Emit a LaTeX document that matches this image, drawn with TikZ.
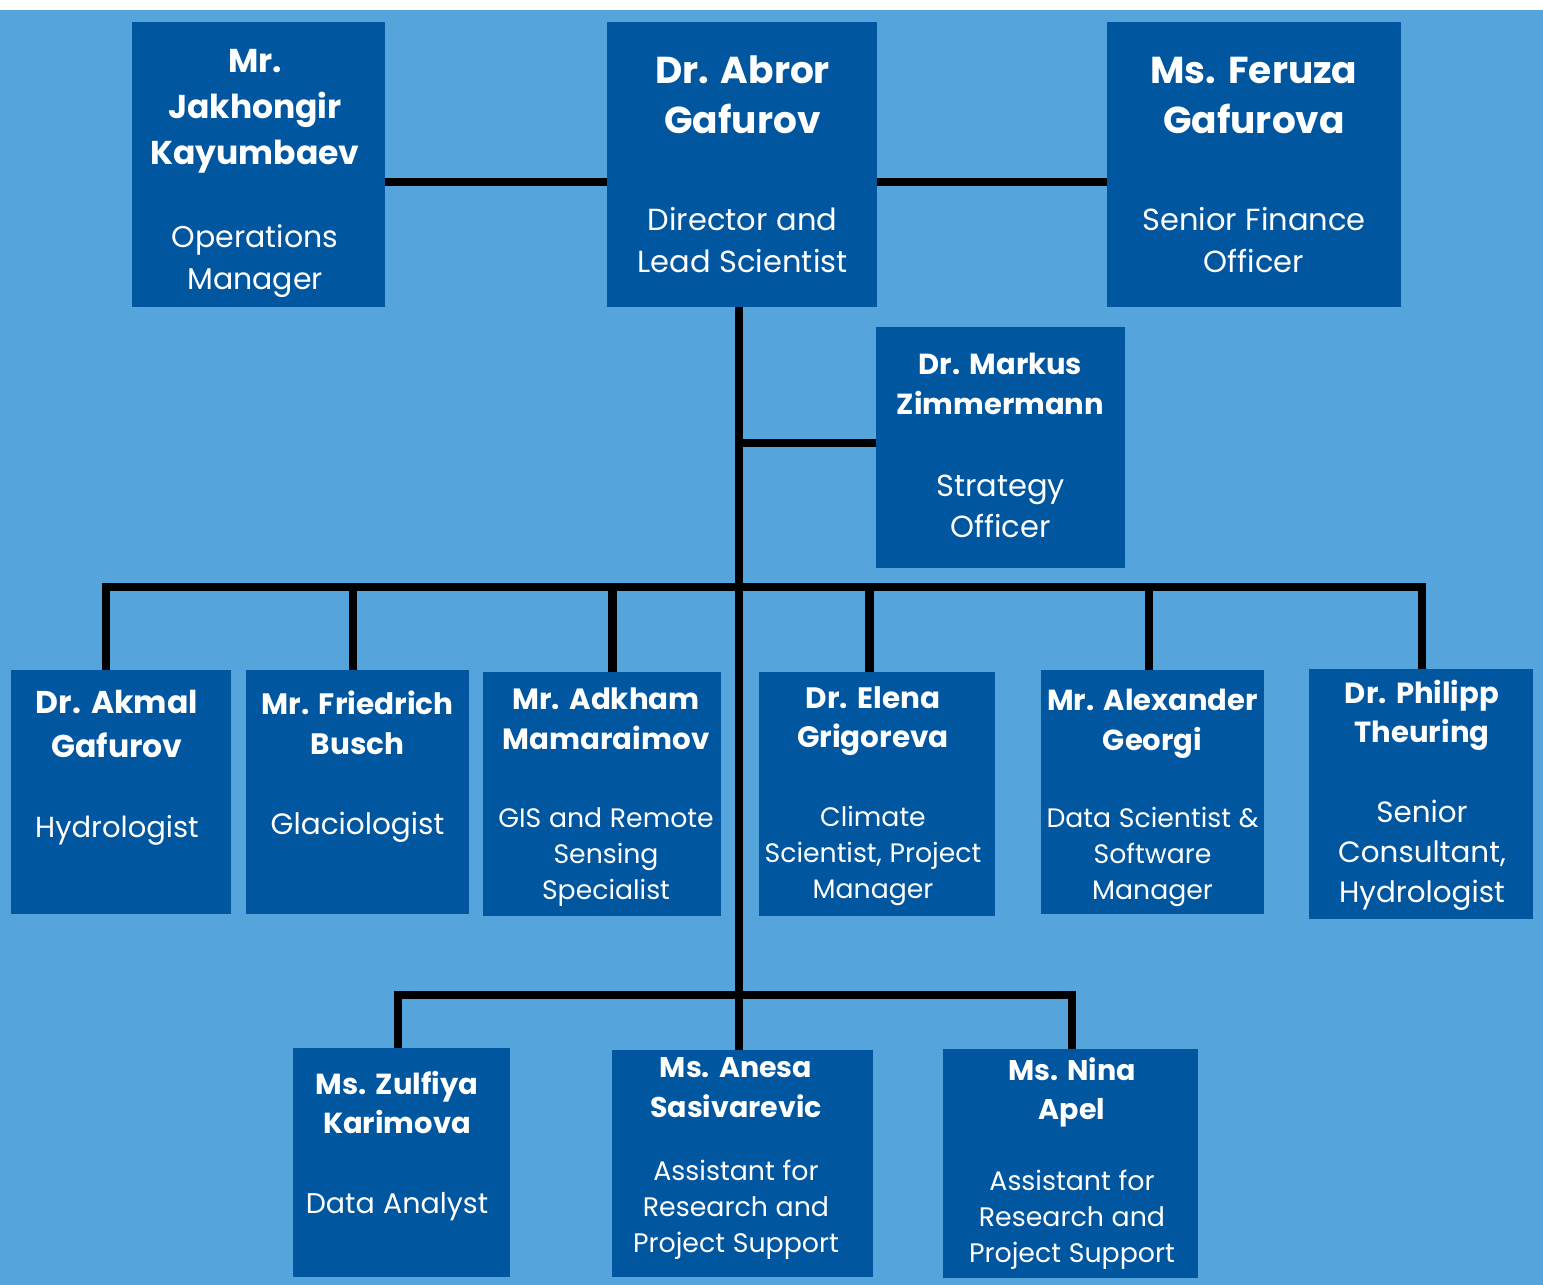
\documentclass[tikz,border=0pt]{standalone}
\usepackage{fontspec}
\setmainfont{Poppins}
\definecolor{bgblue}{RGB}{85,165,220}
\definecolor{boxblue}{RGB}{1,86,160}
% name lines, then gap and role lines
\newcommand{\nameblock}[3]{{\fontsize{#1}{#2}\selectfont\bfseries\spaceskip=.3em\xspaceskip=.32em\relax #3\par}}
\newcommand{\roleblock}[4]{\vspace{#3}{\fontsize{#1}{#2}\selectfont\spaceskip=.29em\xspaceskip=.29em\relax #4\par}}

\begin{document}
\begin{tikzpicture}[x=1pt, y=-1pt,
    person/.style={fill=boxblue, draw=none, inner sep=0pt},
    info/.style={text=white, text width=300pt, align=center, inner sep=0pt, anchor=base},
    link/.style={line width=8.5pt, black, line join=miter}]
    \useasboundingbox (0,0) rectangle (1543,1285);
    \fill[white] (0,0) rectangle (1543,10);
    \fill[bgblue] (0,10) rectangle (1543,1285);

    % boxes
    \node[person, minimum width=253, minimum height=285] (kayum)  at (258.5,164.5) {};
    \node[person, minimum width=270, minimum height=285] (abror)  at (742,164.5) {};
    \node[person, minimum width=294, minimum height=285] (feruza) at (1254,164.5) {};
    \node[person, minimum width=249, minimum height=241] (zimm)   at (1000.5,447.5) {};
    \node[person, minimum width=220, minimum height=244] (akmal)  at (121,792) {};
    \node[person, minimum width=223, minimum height=244] (busch)  at (357.5,792) {};
    \node[person, minimum width=238, minimum height=244] (mamar)  at (602,794) {};
    \node[person, minimum width=236, minimum height=244] (grig)   at (877,794) {};
    \node[person, minimum width=223, minimum height=244] (georgi) at (1152.5,792) {};
    \node[person, minimum width=224, minimum height=250] (theur)  at (1421,794) {};
    \node[person, minimum width=217, minimum height=229] (karim)  at (401.5,1162.5) {};
    \node[person, minimum width=261, minimum height=227] (sasi)   at (742.5,1163.5) {};
    \node[person, minimum width=255, minimum height=229] (apel)   at (1070.5,1163.5) {};

    % connectors
    \coordinate (trunk) at (739,0);
    \coordinate (toprow) at (0,182);
    \coordinate (zrow) at (0,443);
    \coordinate (d1) at (106,587);
    \coordinate (d2) at (353,587);
    \coordinate (d3) at (612.5,587);
    \coordinate (d4) at (869.5,587);
    \coordinate (d5) at (1149,587);
    \coordinate (d6) at (1422,587);
    \coordinate (e1) at (398,995);
    \coordinate (e3) at (1072,995);

    \draw[link] (kayum.east |- toprow) -- (abror.west |- toprow);
    \draw[link] (abror.east |- toprow) -- (feruza.west |- toprow);
    \draw[link] (abror.south -| trunk) -- (sasi.north -| trunk);
    \draw[link] (trunk |- zrow) -- (zimm.west |- zrow);
    \draw[link] (akmal.north -| d1) -- (d1) -- (d6) -- (theur.north -| d6);
    \foreach \d/\n in {d2/busch, d3/mamar, d4/grig, d5/georgi}
        \draw[link] (\d) -- (\n.north -| \d);
    \draw[link] (karim.north -| e1) -- (e1) -- (e3) -- (apel.north -| e3);

    % texts
    \node[info] (kayum-txt) at (255,72)
        {\nameblock{33}{46}{Mr.\\Jakhongir\\Kayumbaev}\roleblock{30}{42}{41pt}{Operations\\Manager}};
    \node[info] (abror-txt) at (742.5,83)
        {\nameblock{37.5}{50}{Dr. Abror\\Gafurov}\roleblock{30.5}{42}{55pt}{Director and\\Lead Scientist}};
    \node[info] (feruza-txt) at (1254,83)
        {\nameblock{37.5}{50}{Ms. Feruza\\Gafurova}\roleblock{30.5}{42}{55pt}{Senior Finance\\Officer}};
    \node[info] (zimm-txt) at (1000.5,374)
        {\nameblock{29}{40}{Dr. Markus\\Zimmermann}\roleblock{30.5}{41}{41pt}{Strategy\\Officer}};
    \node[info] (akmal-txt) at (117,713)
        {\nameblock{31.5}{44}{Dr. Akmal\\Gafurov}\roleblock{29}{42}{38pt}{Hydrologist}};
    \node[info] (busch-txt) at (357.5,714)
        {\nameblock{29.5}{40}{Mr. Friedrich\\Busch}\roleblock{29.5}{42}{38pt}{Glaciologist}};
    \node[info] (mamar-txt) at (606,709)
        {\nameblock{29.3}{40}{Mr. Adkham\\Mamaraimov}\roleblock{26.7}{36}{42pt}{GIS and Remote\\Sensing\\Specialist}};
    \node[info] (grig-txt) at (873,708)
        {\nameblock{29.5}{39}{Dr. Elena\\Grigoreva}\roleblock{26.7}{36}{43pt}{Climate\\Scientist, Project\\Manager}};
    \node[info] (georgi-txt) at (1152.5,710)
        {\nameblock{29}{40}{Mr. Alexander\\Georgi}\roleblock{26.7}{36}{41pt}{Data Scientist \&\\Software\\Manager}};
    \node[info] (theur-txt) at (1422,703)
        {\nameblock{29.1}{39}{Dr. Philipp\\Theuring}\roleblock{29.4}{40}{40pt}{Senior\\Consultant,\\Hydrologist}};
    \node[info] (karim-txt) at (397,1094)
        {\nameblock{29}{39}{Ms. Zulfiya\\Karimova}\roleblock{28.5}{42}{38pt}{Data Analyst}};
    \node[info] (sasi-txt) at (736,1077)
        {\nameblock{28.5}{40}{Ms. Anesa\\Sasivarevic}\roleblock{26.8}{36}{27pt}{Assistant for\\Research and\\Project Support}};
    \node[info] (apel-txt) at (1072,1080)
        {\nameblock{28.5}{39}{Ms. Nina\\Apel}\roleblock{26.8}{36}{35pt}{Assistant for\\Research and\\Project Support}};
\end{tikzpicture}
\end{document}
